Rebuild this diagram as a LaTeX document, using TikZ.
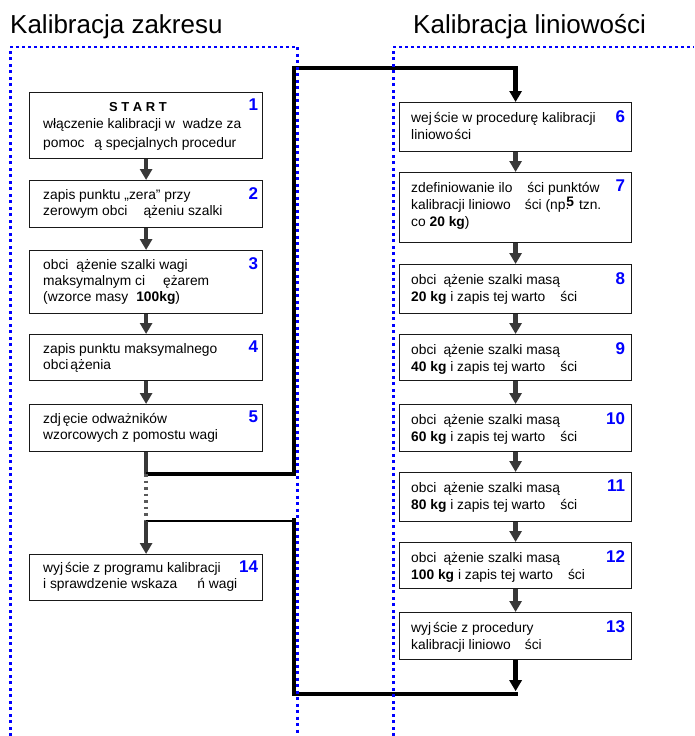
\documentclass[tikz,border=0pt]{standalone}
\usepackage{fontspec}
\setmainfont{Liberation Sans}
\usetikzlibrary{arrows.meta,calc}
\newcommand{\gap}[1]{\hspace{#1}}
\tikzset{
  box/.style={draw=black!90, line width=1.2pt, fill=white, anchor=north west, inner sep=0pt},
  lbox/.style={box, minimum width=233pt},
  rbox/.style={box, minimum width=232pt},
  % the node's base is the baseline of its last line
  txt/.style={anchor=base west, inner sep=0pt, align=left, font=\fontsize{13.8}{16}\selectfont},
  rtxt/.style={txt, font=\fontsize{13.8}{17}\selectfont},
  num/.style={anchor=north east, inner sep=0pt, text=blue, font=\fontsize{17}{17}\selectfont\bfseries},
  title/.style={anchor=base west, inner sep=0pt, font=\fontsize{26}{26}\selectfont},
  flow/.style={draw=black!78, line width=4.6pt, -{Triangle[width=12pt,length=11pt]}},
  flowline/.style={draw=black!78, line width=4.6pt},
  route/.style={draw=black, line width=4.5pt},
  routearrow/.style={route, -{Triangle[width=12pt,length=11pt]}},
  thinroute/.style={draw=black, line width=1.5pt},
  skip/.style={draw=black!65, line width=3.5pt, dash pattern=on 2.5pt off 4pt},
  hframe/.style={draw=blue, line width=2.2pt, dash pattern=on 3pt off 3pt},
  vframe/.style={draw=blue, line width=3pt, dash pattern=on 3pt off 3.5pt},
}
\begin{document}
\begin{tikzpicture}[x=1pt,y=-1pt]
\useasboundingbox (0,0) rectangle (694,736);

% section titles
\node[title] (tl) at (10,33) {Kalibracja zakresu};
\node[title] (tr) at (413,33) {Kalibracja liniowości};

% left column: range calibration
\node[lbox, minimum height=66pt] (b1) at (29,92) {};
\node[lbox, minimum height=47pt] (b2) at (29,180) {};
\node[lbox, minimum height=63pt] (b3) at (29,250) {};
\node[lbox, minimum height=46pt] (b4) at (29,334) {};
\node[lbox, minimum height=47pt] (b5) at (29,404) {};
\node[lbox, minimum height=46pt] (b14) at (29,554) {};

% right column: linearity calibration
\node[rbox, minimum height=49pt] (b6) at (399,102) {};
\node[rbox, minimum height=70pt] (b7) at (399,172) {};
\node[rbox, minimum height=49pt] (b8) at (399,264) {};
\node[rbox, minimum height=46pt] (b9) at (399,334) {};
\node[rbox, minimum height=47pt] (b10) at (399,404) {};
\node[rbox, minimum height=49pt] (b11) at (399,472) {};
\node[rbox, minimum height=46pt] (b12) at (399,542) {};
\node[rbox, minimum height=47pt] (b13) at (399,612) {};

% box texts, left
\node[anchor=base, inner sep=0pt, font=\fontsize{13}{17}\selectfont\bfseries] (st) at (138,111) {S T A R T};
\node[txt, font=\fontsize{13.8}{19}\selectfont] (t1) at ($(b1.north west)+(14,55)$)
  {włączenie kalibracji w\gap{4pt} wadze za\\pomoc\gap{6pt} ą specjalnych procedur};
\node[txt] (t2) at ($(b2.north west)+(14,35)$)
  {zapis punktu „zera” przy\\zerowym obci\gap{16pt}ążeniu szalki};
\node[txt] (t3) at ($(b3.north west)+(14,51)$)
  {obci\gap{8pt}ążenie szalki wagi\\maksymalnym ci\gap{18pt}ężarem\\(wzorce masy\gap{8pt}\textbf{100kg})};
\node[txt] (t4) at ($(b4.north west)+(14,35)$)
  {zapis punktu maksymalnego\\obci\gap{2pt}ążenia};
\node[txt] (t5) at ($(b5.north west)+(14,35)$)
  {zdj\gap{2pt}ęcie odważników\\wzorcowych z pomostu wagi};
\node[txt] (t14) at ($(b14.north west)+(14,34)$)
  {wyj\gap{2pt}ście z programu kalibracji\\i sprawdzenie wskaza\gap{20pt}ń wagi};

% box texts, right
\node[rtxt] (t6) at ($(b6.north west)+(12,37)$)
  {wej\gap{2pt}ście w procedurę kalibracji\\liniowo\gap{1pt}ści};
\node[rtxt] (t7) at ($(b7.north west)+(12,54)$)
  {zdefiniowanie ilo\gap{15pt}ści punktów\\kalibracji liniowo\gap{14pt}ści (np.\gap{-3pt}\raisebox{2.5pt}{\textbf{5}}\gap{5pt}tzn.\\co \textbf{20 kg})};
\node[rtxt] (t8) at ($(b8.north west)+(12,37)$)
  {obci\gap{7pt}ążenie szalki masą\\\textbf{20 kg} i zapis tej warto\gap{15pt}ści};
\node[rtxt] (t9) at ($(b9.north west)+(12,37)$)
  {obci\gap{7pt}ążenie szalki masą\\\textbf{40 kg} i zapis tej warto\gap{15pt}ści};
\node[rtxt] (t10) at ($(b10.north west)+(12,37)$)
  {obci\gap{7pt}ążenie szalki masą\\\textbf{60 kg} i zapis tej warto\gap{15pt}ści};
\node[rtxt] (t11) at ($(b11.north west)+(12,37)$)
  {obci\gap{7pt}ążenie szalki masą\\\textbf{80 kg} i zapis tej warto\gap{15pt}ści};
\node[rtxt] (t12) at ($(b12.north west)+(12,37)$)
  {obci\gap{7pt}ążenie szalki masą\\\textbf{100 kg} i zapis tej warto\gap{15pt}ści};
\node[rtxt] (t13) at ($(b13.north west)+(12,37)$)
  {wyj\gap{2pt}ście z procedury\\kalibracji liniowo\gap{14pt}ści};

% step numbers
\foreach \b in {1,2,3,4,5,14}
  \node[num] (n\b) at ($(b\b.north east)+(-5,7)$) {\b};
\foreach \b in {6,7,8,9,10,11,12,13}
  \node[num] (n\b) at ($(b\b.north east)+(-7,8)$) {\b};

% flow inside the columns
\draw[flow] (b1.south) -- (b2.north);
\draw[flow] (b2.south) -- (b3.north);
\draw[flow] (b3.south) -- (b4.north);
\draw[flow] (b4.south) -- (b5.north);
\draw[flow] (b6.south) -- (b7.north);
\draw[flow] (b7.south) -- (b8.north);
\draw[flow] (b8.south) -- (b9.north);
\draw[flow] (b9.south) -- (b10.north);
\draw[flow] (b10.south) -- (b11.north);
\draw[flow] (b11.south) -- (b12.north);
\draw[flow] (b12.south) -- (b13.north);

% routing between the columns
\coordinate (j1) at ($(b5.south)+(0,22)$);
\coordinate (j2) at ($(b5.south)+(0,69)$);
\coordinate (up) at (294,68);
\coordinate (e13) at ($(b13.south)+(0,31)$);
\coordinate (k1) at ($(b13.south)+(2,34)$);
\coordinate (k2) at (294,693);
\coordinate (k3) at (294,518);

\draw[flowline] (b5.south) -- (j1);
\draw[route] (j1) -| (up) -| ($(b6.north)+(0,-10)$);
\draw[routearrow] ($(b6.north)+(0,-12)$) -- (b6.north);
\draw[skip] (j1) -- (j2);
\draw[routearrow] (b13.south) -- (e13);
\draw[route] (k1) -| (k3);
\draw[thinroute] (k3 |- j2) -- (j2);
\draw[flow] (j2) -- (b14.north);

% dotted section frames
\draw[vframe] (10,736) -- (10,47);
\draw[hframe] (10,47) -- (297,47);
\draw[vframe] (297,47) -- (297,736);
\draw[vframe] (393,736) -- (393,47);
\draw[hframe] (393,47) -- (694,47);
\end{tikzpicture}
\end{document}
